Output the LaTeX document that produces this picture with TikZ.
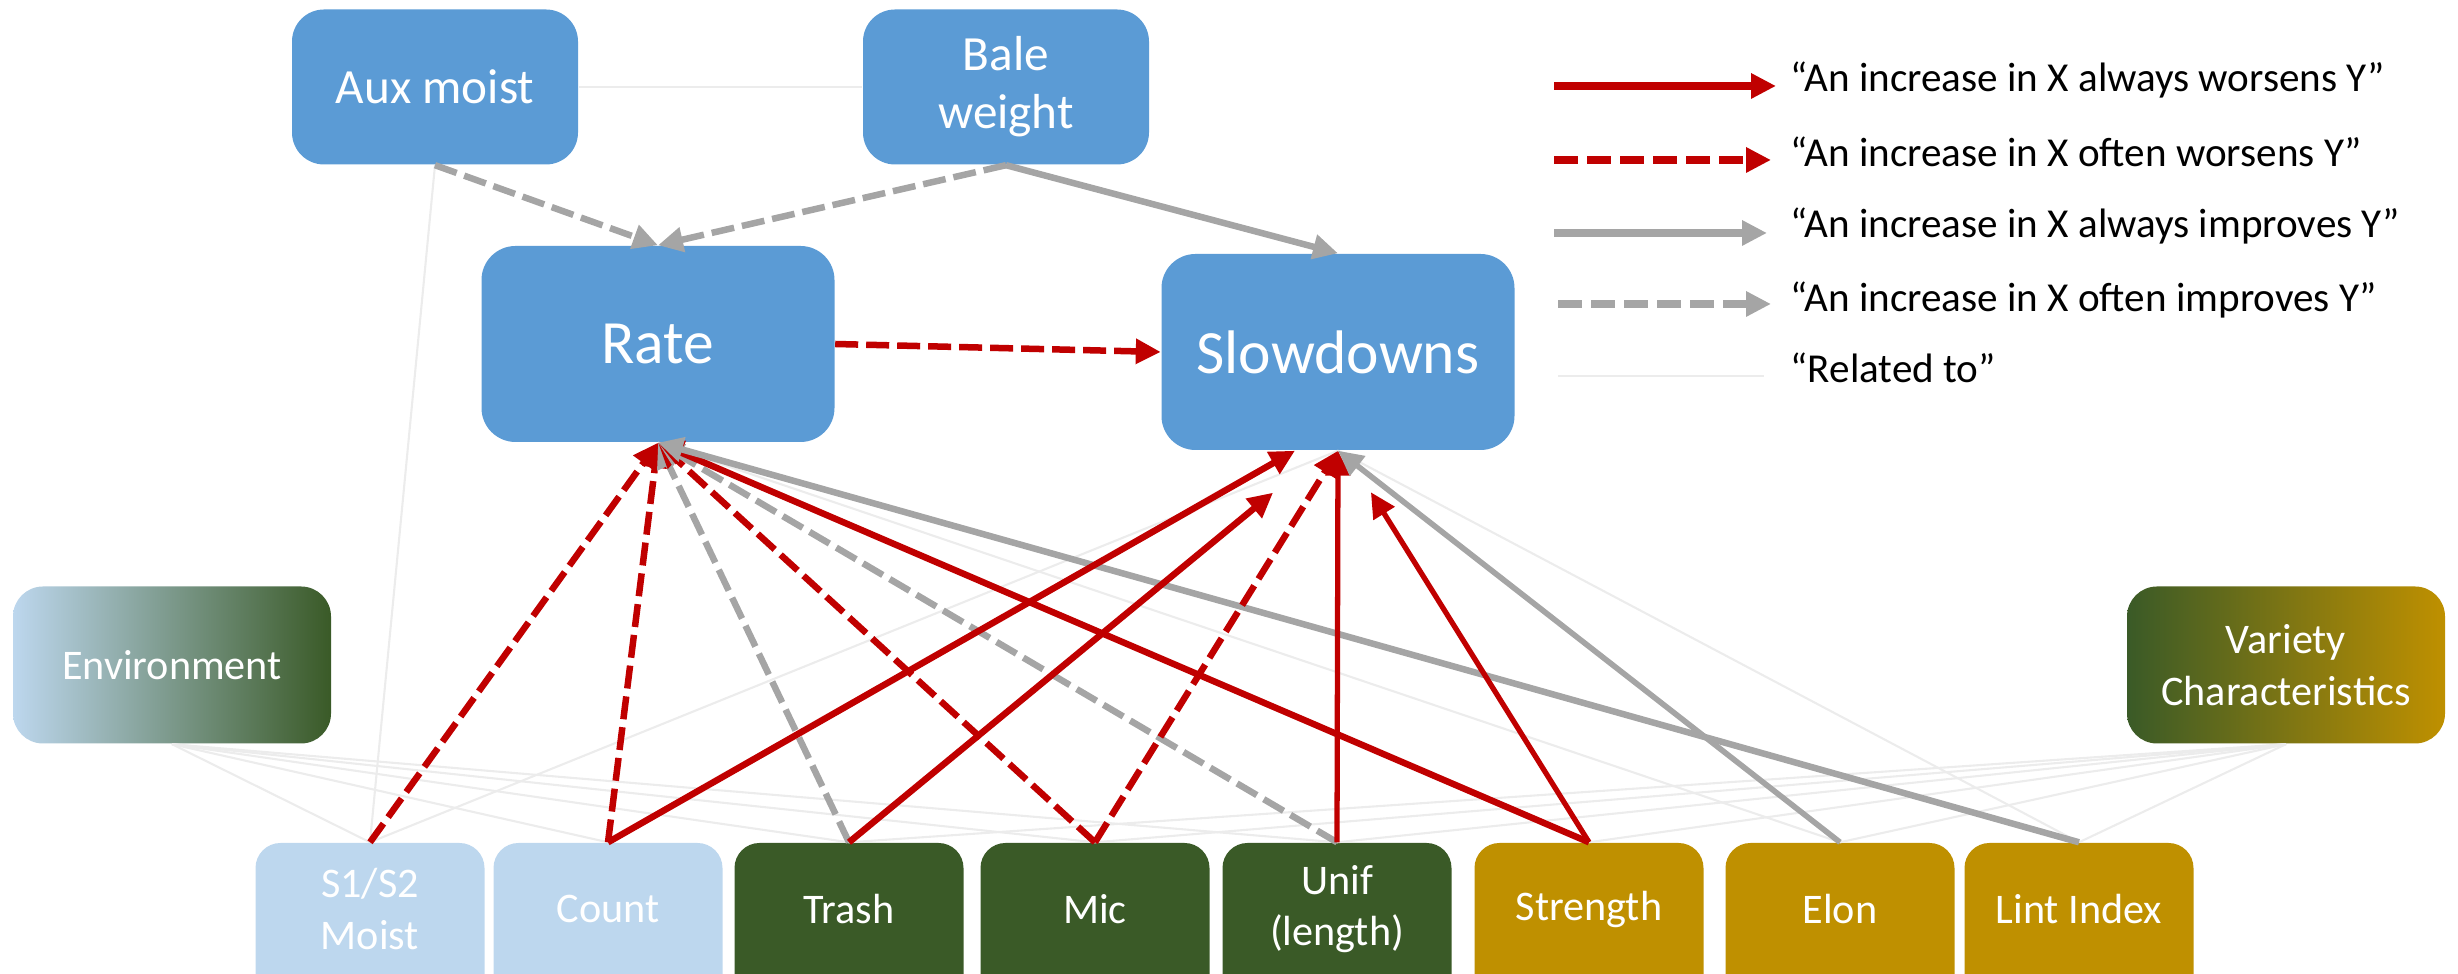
\documentclass[tikz,border=0pt]{standalone}
\usepackage{fontspec}
\setmainfont{Carlito}
\usetikzlibrary{arrows.meta}

\definecolor{boxblue}{HTML}{5B9BD5}
\definecolor{paleblue}{HTML}{BDD7EE}
\definecolor{leafgreen}{HTML}{3A5A27}
\definecolor{cottongold}{HTML}{BF9000}
\definecolor{worsered}{HTML}{C00000}
\definecolor{bettergray}{HTML}{A5A5A5}
\definecolor{relgray}{HTML}{ECECEC}

\tikzset{
	smallbox/.style={rectangle, rounded corners=0.32cm, fill=boxblue, text=white, align=center,
		minimum width=2.86cm, minimum height=1.55cm, font=\fontsize{14}{16.5}\selectfont},
	bigbox/.style={rectangle, rounded corners=0.34cm, fill=boxblue, text=white,
		minimum width=3.53cm, minimum height=1.96cm, font=\fontsize{17.5}{21}\selectfont},
	sidebox/.style={rectangle, rounded corners=0.3cm, text=white, align=center,
		minimum width=3.18cm, minimum height=1.57cm, font=\fontsize{12}{14.7}\selectfont},
	botbox/.style={rectangle, rounded corners=0.25cm, fill=#1, minimum width=2.29cm, minimum height=1.6cm},
	botlabel/.style={text=white, align=center, yshift=0.14cm, font=\fontsize{12}{14.7}\selectfont},
	worsens/.style={draw=worsered, line width=1.85pt, -{Triangle[length=0.25cm,width=0.24cm]}},
	oftenworsens/.style={worsens, dash pattern=on 0.23cm off 0.08cm},
	improves/.style={draw=bettergray, line width=1.85pt, -{Triangle[length=0.25cm,width=0.24cm]}},
	oftenimproves/.style={improves, dash pattern=on 0.23cm off 0.08cm},
	related/.style={draw=relgray, line width=0.6pt},
	keytext/.style={anchor=base west, inner sep=0pt, font=\fontsize{11.7}{14}\selectfont}
}

\begin{document}
\begin{tikzpicture}
	
	\useasboundingbox (0,0) rectangle (24.58,-9.74);
	\clip (0,0) rectangle (24.58,-9.74);
	
	\node[smallbox] (aux) at (4.35,-0.87) {Aux moist};
	\node[smallbox] (bale) at (10.06,-0.87) {Bale\\weight};
	\node[bigbox] (rate) at (6.58,-3.44) {Rate};
	\node[bigbox] (slow) at (13.38,-3.52) {Slowdowns};
	
	\node[sidebox, left color=paleblue, right color=leafgreen] (env) at (1.72,-6.65) {Environment};
	\node[sidebox, left color=leafgreen, right color=cottongold] (var) at (22.86,-6.65) {Variety\\Characteristics};
	
	\node[botbox=paleblue, label={[botlabel]center:S1/S2\\Moist}] (s1s2) at (3.70,-9.23) {};
	\node[botbox=paleblue, label={[botlabel]center:Count}] (count) at (6.08,-9.23) {};
	\node[botbox=leafgreen, label={[botlabel]center:Trash}] (trash) at (8.49,-9.23) {};
	\node[botbox=leafgreen, label={[botlabel]center:Mic}] (mic) at (10.95,-9.23) {};
	\node[botbox=leafgreen, label={[botlabel]center:Unif\\(length)}] (unif) at (13.37,-9.23) {};
	\node[botbox=cottongold, label={[botlabel]center:Strength}] (strength) at (15.89,-9.23) {};
	\node[botbox=cottongold, label={[botlabel]center:Elon}] (elon) at (18.40,-9.23) {};
	\node[botbox=cottongold, label={[botlabel]center:Lint Index}] (lint) at (20.79,-9.23) {};
	
	% related to
	\path (aux.east) edge[related] (bale.west);
	\path (aux.south) edge[related] (s1s2.north);
	\path (env.south) edge[related] (s1s2.north);
	\path (env.south) edge[related] (count.north);
	\path (env.south) edge[related] (trash.north);
	\path (env.south) edge[related] (mic.north);
	\path (env.south) edge[related] (unif.north);
	\path (var.south) edge[related] (trash.north);
	\path (var.south) edge[related] (mic.north);
	\path (var.south) edge[related] (unif.north);
	\path (var.south) edge[related] (strength.north);
	\path (var.south) edge[related] (elon.north);
	\path (var.south) edge[related] (lint.north);
	\path (s1s2.north) edge[related] (slow.south);
	\path (rate.south) edge[related] (elon.north);
	\path (slow.south) edge[related] (lint.north);
	
	% top
	\path (aux.south) edge[oftenimproves] (rate.north);
	\path (bale.south) edge[oftenimproves] (rate.north);
	\path (bale.south) edge[improves] (slow.north);
	\path (rate.east) edge[oftenworsens] (slow.west);
	
	% into rate
	\path (s1s2.north) edge[oftenworsens] (rate.south);
	\path (count.north) edge[oftenworsens] (rate.south);
	\path (trash.north) edge[oftenimproves] (rate.south);
	\path (mic.north) edge[oftenworsens] (rate.south);
	\path (unif.north) edge[oftenimproves] (rate.south);
	\path (strength.north) edge[worsens] (rate.south);
	\path (lint.north) edge[improves] (rate.south);
	
	% into slowdowns
	\path (count.north) edge[worsens] ([xshift=-0.43cm]slow.south);
	\path (trash.north) edge[worsens, shorten >=0.66cm] ([xshift=-0.14cm]slow.south);
	\path (mic.north) edge[oftenworsens] (slow.south);
	\path (unif.north) edge[worsens, line width=1.5pt] (slow.south);
	\path (strength.north) edge[worsens, line width=1.5pt, shorten >=0.49cm] ([xshift=0.07cm]slow.south);
	\path (elon.north) edge[improves, line width=1.6pt] (slow.south);
	
	% legend
	\coordinate (k1a) at (15.54,-0.86);
	\coordinate (k1b) at (17.76,-0.86);
	\coordinate (k2a) at (15.54,-1.60);
	\coordinate (k2b) at (17.71,-1.60);
	\coordinate (k3a) at (15.54,-2.33);
	\coordinate (k3b) at (17.67,-2.33);
	\coordinate (k4a) at (15.58,-3.04);
	\coordinate (k4b) at (17.71,-3.04);
	\coordinate (k5a) at (15.58,-3.76);
	\coordinate (k5b) at (17.64,-3.76);
	
	\path (k1a) edge[worsens, line width=2.1pt] (k1b);
	\path (k2a) edge[oftenworsens, line width=2.1pt, dash pattern=on 0.24cm off 0.09cm] (k2b);
	\path (k3a) edge[improves, line width=2.1pt] (k3b);
	\path (k4a) edge[oftenimproves, line width=2.1pt, dash pattern=on 0.24cm off 0.09cm] (k4b);
	\path (k5a) edge[related] (k5b);
	
	\node[keytext] (k1) at (17.90,-0.92) {“An increase in X always worsens Y”};
	\node[keytext] (k2) at (17.90,-1.67) {“An increase in X often worsens Y”};
	\node[keytext] (k3) at (17.90,-2.38) {“An increase in X always improves Y”};
	\node[keytext] (k4) at (17.90,-3.12) {“An increase in X often improves Y”};
	\node[keytext] (k5) at (17.90,-3.83) {“Related to”};
	
\end{tikzpicture}
\end{document}
